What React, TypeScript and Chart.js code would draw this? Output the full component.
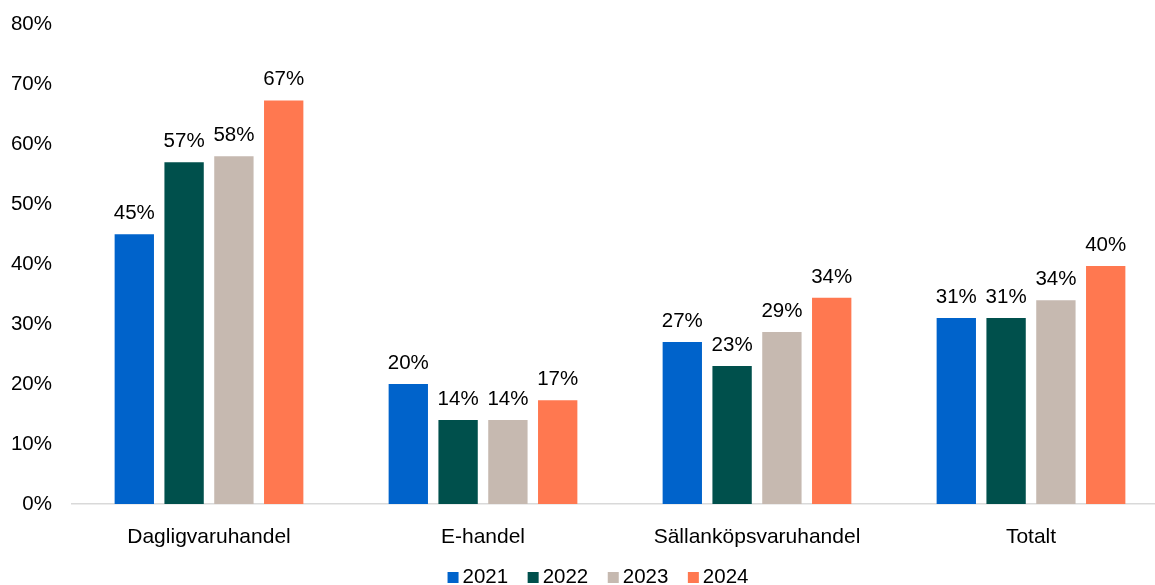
import React, { useEffect, useRef } from "react";
import { Chart, registerables } from "chart.js";

Chart.register(...registerables);

const categories = ["Dagligvaruhandel", "E-handel", "Sällanköpsvaruhandel", "Totalt"];
const seriesNames = ["2021", "2022", "2023", "2024"];
const values2021 = [45, 20, 27, 31];
const values2022 = [57, 14, 23, 31];
const values2023 = [58, 14, 28.7, 34];
const values2024 = [67.3, 17.3, 34.4, 39.7];
const seriesColors = ["#0063CB", "#00504C", "#C6B9B0", "#FF7850"];
const yTicks = [0, 10, 20, 30, 40, 50, 60, 70, 80];

const FONT = '"Liberation Sans", Arial, sans-serif';

const labelPlugin = {
  id: "valueLabels",
  afterDatasetsDraw(chart: any) {
    const ctx = chart.ctx;
    ctx.save();
    ctx.font = `20.5px ${FONT}`;
    ctx.fillStyle = "#000000";
    ctx.textAlign = "center";
    ctx.textBaseline = "alphabetic";
    chart.data.datasets.forEach((ds: any, di: number) => {
      const meta = chart.getDatasetMeta(di);
      meta.data.forEach((el: any, i: number) => {
        const v = ds.data[i];
        ctx.fillText(Math.round(v) + "%", el.x, el.y - 15);
      });
    });
    ctx.restore();
  },
  afterDraw(chart: any) {
    const ctx = chart.ctx;
    ctx.save();
    ctx.font = `20.5px ${FONT}`;
    ctx.textBaseline = "alphabetic";
    ctx.textAlign = "left";
    const box = 11;
    const gapText = 4;
    const gapItem = 19.5;
    const widths = seriesNames.map((n) => box + gapText + ctx.measureText(n).width);
    const total = widths.reduce((a, b) => a + b, 0) + gapItem * (widths.length - 1);
    let x = 598 - total / 2;
    seriesNames.forEach((n, i) => {
      ctx.fillStyle = seriesColors[i];
      ctx.fillRect(x, 572, box, box);
      ctx.fillStyle = "#000000";
      ctx.fillText(n, x + box + gapText, 583);
      x += widths[i] + gapItem;
    });
    ctx.restore();
  },
};

export default function App() {
  const ref = useRef<HTMLCanvasElement | null>(null);
  useEffect(() => {
    if (!ref.current) return;
    const allValues = [values2021, values2022, values2023, values2024];
    const chart = new Chart(ref.current, {
      type: "bar",
      data: {
        labels: categories,
        datasets: seriesNames.map((name, i) => ({
          label: name,
          data: allValues[i],
          backgroundColor: seriesColors[i],
          borderWidth: 0,
          barPercentage: 0.79,
          categoryPercentage: 0.727,
        })),
      },
      options: {
        animation: false,
        responsive: false,
        devicePixelRatio: 1,
        layout: { padding: { top: 17, left: 0, right: 0, bottom: 0 } },
        plugins: {
          legend: { display: false },
          tooltip: { enabled: false },
        },
        scales: {
          x: {
            grid: { display: false },
            border: { display: true, color: "#D9D9D9", width: 1.5 },
            ticks: {
              color: "#000000",
              font: { family: FONT, size: 21 },
              padding: 13,
              maxRotation: 0,
            },
            afterFit: (scale: any) => {
              scale.height = 81;
            },
          },
          y: {
            min: 0,
            max: 80,
            grid: { display: false },
            border: { display: false },
            afterBuildTicks: (scale: any) => {
              scale.ticks = yTicks.map((v) => ({ value: v }));
            },
            ticks: {
              color: "#000000",
              font: { family: FONT, size: 20.5 },
              padding: 12,
              callback: (v: any) => v + "%",
            },
            afterFit: (scale: any) => {
              scale.width = 72;
            },
          },
        },
      },
      plugins: [labelPlugin],
    });
    return () => chart.destroy();
  }, []);
  return (
    <div
      style={{
        position: "fixed",
        left: 0,
        top: 0,
        width: 1155,
        height: 585,
        overflow: "hidden",
        background: "#ffffff",
      }}
    >
      <canvas ref={ref} width={1168} height={585} style={{ display: "block", width: 1168, height: 585 }} />
    </div>
  );
}
